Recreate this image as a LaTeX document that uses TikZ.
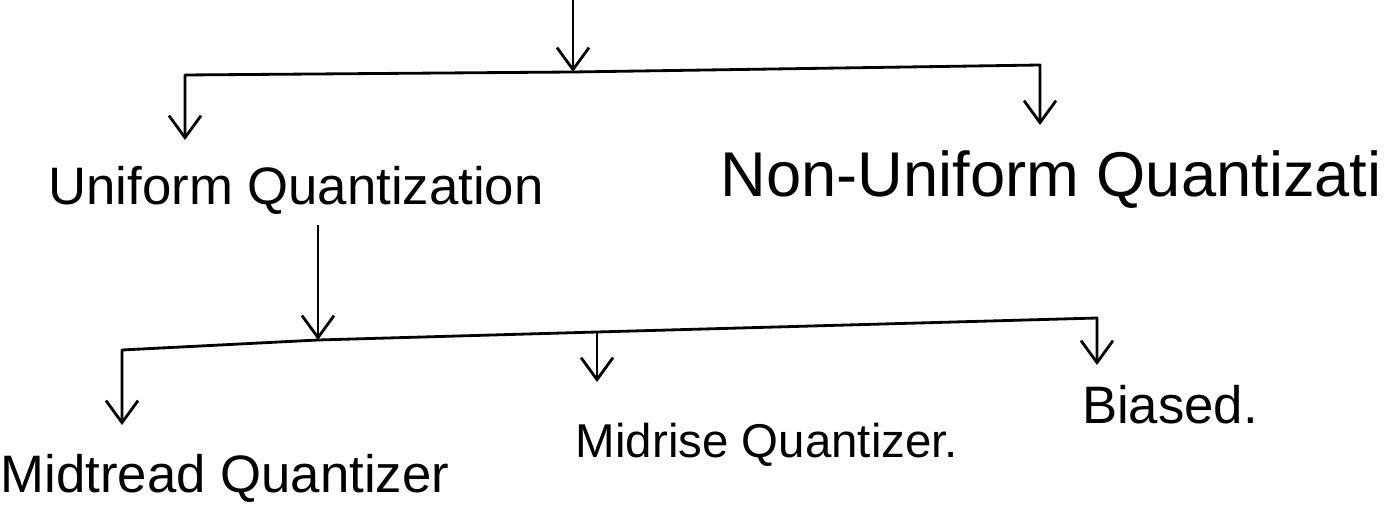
\documentclass[tikz,border=0pt]{standalone}
\usepackage{fontspec}
\setmainfont{Liberation Sans}
\usetikzlibrary{arrows.meta,positioning}
\tikzset{
    % Base style for the handwritten labels
    tree label/.style={
        font=\fontsize{15}{18}\selectfont,
        text=black,
        inner sep=0pt,
    },
    % Plain pen stroke for the bus lines
    bus line/.style={
        line width=0.8pt,
        draw=black,
        line join=round,
    },
    % Branch arrow with an open head
    branch/.style={
        bus line,
        -{Straight Barb[length=2.2mm, width=3.2mm]},
    },
}

\begin{document}
\begin{tikzpicture}
    \useasboundingbox (0,0) rectangle (13.97,5.08);

    % labels
    \node (uniform) [tree label] at (2.96,3.18) {Uniform Quantization};
    \node (nonuniform) [tree label, anchor=west, font=\fontsize{18}{21}\selectfont] at (7.20,3.28) {Non-Uniform Quantizati};
    \node (midtread) [tree label] at (2.25,0.30) {Midtread Quantizer};
    \node (midrise) [tree label, font=\fontsize{13.5}{16}\selectfont] at (7.67,0.63) {Midrise Quantizer.};
    \node (biased) [tree label] at (11.70,1.03) {Biased.};

    % junctions, corners and arrow tips
    \coordinate (feed) at (5.73,5.08);
    \coordinate (hubTop) at (5.73,4.36);
    \coordinate (cornerUniform) at (1.85,4.33);
    \coordinate (cornerNonuniform) at (10.40,4.43);
    \coordinate (uniformTip) at (1.85,3.68);
    \coordinate (nonuniformTip) at (10.40,3.83);
    \coordinate (hubLow) at (3.18,1.68);
    \coordinate (cornerMidtread) at (1.22,1.58);
    \coordinate (forkMidrise) at (5.97,1.76);
    \coordinate (cornerBiased) at (10.97,1.90);
    \coordinate (midtreadTip) at (1.22,0.83);
    \coordinate (midriseTip) at (5.97,1.26);
    \coordinate (biasedTip) at (10.97,1.43);

    % upper level
    \draw [branch] (feed) -- (hubTop);
    \draw [branch] (hubTop) -- (cornerUniform) -- (uniformTip);
    \draw [branch] (hubTop) -- (cornerNonuniform) -- (nonuniformTip);

    % lower level
    \draw [branch, shorten <=1mm] (uniform.south -| hubLow) -- (hubLow);
    \draw [branch] (hubLow) -- (cornerMidtread) -- (midtreadTip);
    \draw [bus line] (hubLow) -- (forkMidrise);
    \draw [branch] (forkMidrise) -- (midriseTip);
    \draw [branch] (forkMidrise) -- (cornerBiased) -- (biasedTip);
\end{tikzpicture}
\end{document}
